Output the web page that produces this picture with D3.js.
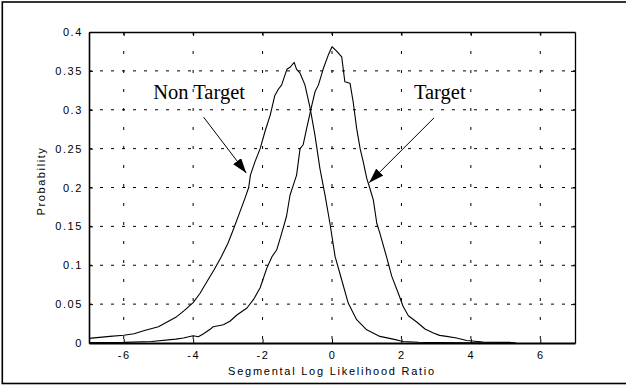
<!DOCTYPE html>
<html>
<head>
<meta charset="utf-8">
<script src="https://cdn.jsdelivr.net/npm/d3@7"></script>
<style>
    body { margin: 0; background: #fff; }
    .tick-label { font-family: "Liberation Sans", Arial, sans-serif; font-size: 11px; letter-spacing: 1.6px; fill: #000; }
    .note { font-family: "Liberation Serif", "Times New Roman", serif; font-size: 20.5px; fill: #000; }
</style>
</head>
<body>
<div id="chart"></div>
<script>
// x grid / tick values
var xTicks = [-6, -4, -2, 0, 2, 4, 6];
var xTickLabels = ["-6", "-4", "-2", "0", "2", "4", "6"];
var yTicks = [0, 0.05, 0.1, 0.15, 0.2, 0.25, 0.3, 0.35, 0.4];
var yTickLabels = ["0", "0.05", "0.1", "0.15", "0.2", "0.25", "0.3", "0.35", "0.4"];

// [log likelihood ratio, probability]
var nonTarget = [
    [-7.0, 0.006], [-6.4, 0.0085], [-6.0, 0.010], [-5.7, 0.012], [-5.4, 0.016],
    [-5.0, 0.021], [-4.75, 0.027], [-4.5, 0.033], [-4.25, 0.042], [-4.0, 0.052],
    [-3.8, 0.064], [-3.6, 0.079], [-3.4, 0.094], [-3.2, 0.11], [-3.0, 0.128],
    [-2.85, 0.145], [-2.65, 0.169], [-2.5, 0.187], [-2.4, 0.2], [-2.35, 0.216],
    [-2.22, 0.233], [-2.07, 0.25], [-1.93, 0.272], [-1.78, 0.293], [-1.65, 0.318],
    [-1.55, 0.326], [-1.45, 0.332], [-1.3, 0.352], [-1.2, 0.355], [-1.09, 0.361],
    [-1.02, 0.352], [-0.92, 0.347], [-0.78, 0.332], [-0.63, 0.302], [-0.49, 0.267],
    [-0.35, 0.225], [-0.2, 0.19], [-0.06, 0.154], [0.09, 0.111], [0.28, 0.081],
    [0.47, 0.051], [0.71, 0.030], [1.0, 0.017], [1.38, 0.0085], [1.76, 0.005],
    [2.05, 0.002], [2.5, 0.001], [3.0, 0.0005], [4.0, 0.0003], [5.0, 0.0003], [5.2, 0]
];

var target = [
    [-7.0, 0.0005], [-6.0, 0.0008], [-5.2, 0.002], [-4.5, 0.005], [-4.28, 0.0064],
    [-4.0, 0.0094], [-3.85, 0.008], [-3.7, 0.012], [-3.5, 0.018], [-3.42, 0.021],
    [-3.13, 0.0235], [-2.94, 0.028], [-2.74, 0.036], [-2.45, 0.045], [-2.26, 0.056],
    [-2.07, 0.071], [-1.88, 0.096], [-1.73, 0.111], [-1.59, 0.12], [-1.45, 0.141],
    [-1.31, 0.163], [-1.21, 0.19], [-1.1, 0.205], [-1.02, 0.216], [-0.92, 0.25],
    [-0.83, 0.255], [-0.73, 0.276], [-0.6, 0.302], [-0.49, 0.323], [-0.39, 0.332],
    [-0.25, 0.353], [-0.11, 0.37], [0.0, 0.381], [0.12, 0.376], [0.28, 0.368],
    [0.37, 0.336], [0.52, 0.334], [0.61, 0.31], [0.71, 0.276], [0.81, 0.25],
    [0.9, 0.233], [1.0, 0.212], [1.09, 0.199], [1.19, 0.184], [1.29, 0.154],
    [1.38, 0.141], [1.57, 0.111], [1.72, 0.086], [1.91, 0.064], [2.05, 0.047],
    [2.2, 0.035], [2.44, 0.027], [2.68, 0.018], [2.92, 0.013], [3.1, 0.0098],
    [3.3, 0.0085], [3.59, 0.0064], [3.88, 0.0033], [4.35, 0.0013], [5.1, 0.0008], [5.3, 0]
];

// annotations: label position and arrow from -> to, in data units
var notes = [
    {text: "Non Target", x: -5.15, y: 0.3136, from: [-3.70, 0.2905], to: [-2.47, 0.2186]},
    {text: "Target", x: 2.36, y: 0.3136, from: [2.94, 0.2896], to: [1.07, 0.2062]}
];

var W = 626, H = 385;
var margin = {top: 32, right: 51, bottom: 42, left: 89};
var width = W - margin.left - margin.right,
    height = H - margin.top - margin.bottom;

var svg = d3.select("#chart")
    .append("svg")
    .attr("width", W)
    .attr("height", H);

// outer frame
svg.append("rect")
    .attr("x", 2.3).attr("y", 2)
    .attr("width", 630).attr("height", 381.5)
    .attr("fill", "none")
    .attr("stroke", "#000")
    .attr("stroke-width", 1.6);

var g = svg.append("g")
    .attr("transform", "translate(" + margin.left + "," + margin.top + ")");

var x = d3.scaleLinear().domain([-7, 7]).range([0, width]);
var y = d3.scaleLinear().domain([0, 0.4]).range([height, 0]);

// grid
g.append("g")
    .selectAll("line")
    .data(xTicks)
    .enter().append("line")
    .attr("x1", function(d) { return x(d) })
    .attr("x2", function(d) { return x(d) })
    .attr("y1", 0).attr("y2", height)
    .attr("stroke", "#000")
    .attr("stroke-width", 1)
    .attr("stroke-dasharray", "3,16");

g.append("g")
    .selectAll("line")
    .data(yTicks.slice(1, -1))
    .enter().append("line")
    .attr("y1", function(d) { return y(d) })
    .attr("y2", function(d) { return y(d) })
    .attr("x1", 0).attr("x2", width)
    .attr("stroke", "#000")
    .attr("stroke-width", 1)
    .attr("stroke-dasharray", "3,8");

// axes with inward ticks on all sides
var xAxis = g.append("g")
    .attr("transform", "translate(0," + height + ")")
    .call(d3.axisBottom(x).tickValues(xTicks).tickSizeInner(-4).tickSizeOuter(0).tickPadding(8)
        .tickFormat(function(d, i) { return xTickLabels[i] }));
g.append("g")
    .call(d3.axisTop(x).tickValues(xTicks).tickSizeInner(-4).tickSizeOuter(0).tickFormat(""));
var yAxis = g.append("g")
    .call(d3.axisLeft(y).tickValues(yTicks).tickSizeInner(-4).tickSizeOuter(0).tickPadding(6)
        .tickFormat(function(d, i) { return yTickLabels[i] }));
g.append("g")
    .attr("transform", "translate(" + width + ",0)")
    .call(d3.axisRight(y).tickValues(yTicks).tickSizeInner(-4).tickSizeOuter(0).tickFormat(""));

g.selectAll(".domain").attr("stroke", "#000").attr("stroke-width", 1.3);
g.selectAll(".tick line").attr("stroke", "#000");
g.selectAll(".tick text")
    .attr("class", "tick-label")
    .attr("font-family", null).attr("font-size", null);
xAxis.selectAll(".domain").attr("stroke-width", 1.8);
yAxis.selectAll(".domain").attr("stroke-width", 1.6);

// axis titles
svg.append("text")
    .attr("class", "tick-label")
    .attr("x", margin.left + width / 2)
    .attr("y", 375)
    .attr("text-anchor", "middle")
    .style("letter-spacing", "1.75px")
    .text("Segmental Log Likelihood Ratio");

svg.append("text")
    .attr("class", "tick-label")
    .attr("transform", "translate(45," + 181 + ") rotate(-90)")
    .attr("text-anchor", "middle")
    .text("Probability");

// curves
var line = d3.line()
    .x(function(d) { return x(d[0]) })
    .y(function(d) { return y(d[1]) });

g.selectAll(".curve")
    .data([nonTarget, target])
    .enter().append("path")
    .attr("class", "curve")
    .attr("d", line)
    .attr("fill", "none")
    .attr("stroke", "#000")
    .attr("stroke-width", 1.1)
    .attr("stroke-linejoin", "round");

// arrows
svg.append("defs").append("marker")
    .attr("id", "head")
    .attr("viewBox", "0 -5 15 10")
    .attr("refX", 15).attr("refY", 0)
    .attr("markerWidth", 15).attr("markerHeight", 10)
    .attr("markerUnits", "userSpaceOnUse")
    .attr("orient", "auto")
    .append("path")
    .attr("d", "M0,-5L15,0L0,5Z")
    .attr("fill", "#000");

g.selectAll(".arrow")
    .data(notes)
    .enter().append("line")
    .attr("class", "arrow")
    .attr("x1", function(d) { return x(d.from[0]) })
    .attr("y1", function(d) { return y(d.from[1]) })
    .attr("x2", function(d) { return x(d.to[0]) })
    .attr("y2", function(d) { return y(d.to[1]) })
    .attr("stroke", "#000")
    .attr("stroke-width", 1)
    .attr("marker-end", "url(#head)");

g.selectAll(".note")
    .data(notes)
    .enter().append("text")
    .attr("class", "note")
    .attr("x", function(d) { return x(d.x) })
    .attr("y", function(d) { return y(d.y) })
    .text(function(d) { return d.text });
</script>
</body>
</html>
